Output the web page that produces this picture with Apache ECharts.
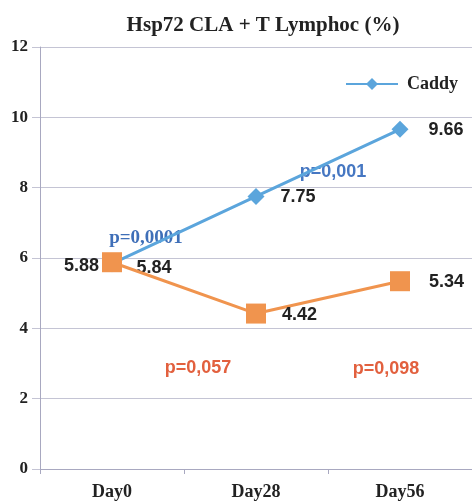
<!DOCTYPE html>
<html><head><meta charset="utf-8">
<script src="https://cdn.jsdelivr.net/npm/echarts@6/dist/echarts.min.js"></script>
<style>html,body{margin:0;padding:0;background:#fff}#c{width:472px;height:501px}</style>
</head><body><div id="c"></div>
<script>
const categories = ['Day0', 'Day28', 'Day56'];
const caddy = [5.84, 7.75, 9.66];
const control = [5.88, 4.42, 5.34];
const yTicks = [0, 2, 4, 6, 8, 10, 12];
const pCaddy = ['p=0,0001', 'p=0,001'];
const pControl = ['p=0,057', 'p=0,098'];

const chart = echarts.init(document.getElementById('c'));
const serif = '"Liberation Serif","DejaVu Serif",serif';
const sans = '"Liberation Sans",Arial,sans-serif';
const lbl = {show: true, color: '#222', fontFamily: sans, fontWeight: 'bold', fontSize: 18, distance: 16};
function withLabels(arr, first, last) {
  return arr.map((v, i) => i === 0 ? {value: v, label: first} : (i === arr.length - 1 ? {value: v, label: last} : v));
}
chart.setOption({
  animation: false,
  title: {text: 'Hsp72 CLA + T Lymphoc (%)', left: 258, top: 10, textAlign: 'center',
    textStyle: {fontFamily: serif, fontWeight: 'bold', fontSize: 21, color: '#222'}},
  legend: {data: ['Caddy'], left: 340, top: 70, itemWidth: 52, itemHeight: 15, itemGap: 10,
    textStyle: {fontFamily: serif, fontWeight: 'bold', fontSize: 18, color: '#222', padding: [0, 0, 0, 4]}},
  grid: {left: 40, top: 47, bottom: 31, width: 435},
  xAxis: {type: 'category', data: categories, boundaryGap: true,
    axisLine: {lineStyle: {color: '#a8a8c0', width: 1}},
    axisTick: {show: true, length: 5, lineStyle: {color: '#a8a8c0'}},
    axisLabel: {margin: 14, fontFamily: serif, fontWeight: 'bold', fontSize: 18, color: '#222'}},
  yAxis: {type: 'value', min: yTicks[0], max: yTicks[yTicks.length - 1], interval: 2,
    axisLine: {show: true, lineStyle: {color: '#a8a8c0', width: 1}},
    axisTick: {show: true, length: 8, lineStyle: {color: '#c4c4d4'}},
    splitLine: {lineStyle: {color: '#c4c4d4', width: 1}},
    axisLabel: {margin: 12, fontFamily: serif, fontWeight: 'bold', fontSize: 17, color: '#222'}},
  series: [
    {name: 'Caddy', type: 'line',
      data: withLabels(caddy, {offset: [0, 4]}, {offset: [4, 1]}),
      symbol: 'diamond', symbolSize: 17,
      lineStyle: {color: '#5ba5dc', width: 3}, itemStyle: {color: '#5ba5dc'},
      label: Object.assign({}, lbl, {position: 'right', offset: [0, 1]}), z: 2},
    {name: 'Control', type: 'line',
      data: withLabels(control, {position: 'left', distance: 4, offset: [1, 4]}, {offset: [3, 1]}),
      symbol: 'rect', symbolSize: 20,
      lineStyle: {color: '#f0944e', width: 3}, itemStyle: {color: '#f0944e'},
      label: Object.assign({}, lbl, {position: 'right', offset: [0, 1]}), z: 3}
  ],
  graphic: [
    {type: 'text', x: 146, y: 238, style: {text: pCaddy[0], fill: '#3f6fb8', font: 'bold 19px ' + serif, align: 'center', verticalAlign: 'middle'}},
    {type: 'text', x: 333, y: 172, style: {text: pCaddy[1], fill: '#4677c2', font: 'bold 18px ' + sans, align: 'center', verticalAlign: 'middle'}},
    {type: 'text', x: 198, y: 368, style: {text: pControl[0], fill: '#e2603e', font: 'bold 18px ' + sans, align: 'center', verticalAlign: 'middle'}},
    {type: 'text', x: 386, y: 369, style: {text: pControl[1], fill: '#e2603e', font: 'bold 18px ' + sans, align: 'center', verticalAlign: 'middle'}}
  ]
});
</script></body></html>
